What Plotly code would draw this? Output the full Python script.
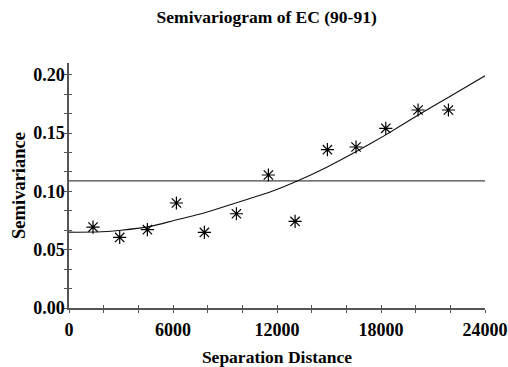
import plotly.graph_objects as go

# Experimental semivariogram (lag distance, semivariance)
lag_dist = [1385, 2925, 4523, 6197, 7811, 9659, 11504, 13043, 14908, 16560, 18275, 20138, 21890]
semivar = [0.0694, 0.0605, 0.0671, 0.0900, 0.0648, 0.0808, 0.1140, 0.0742, 0.1357, 0.1380, 0.1540, 0.1697, 0.1697]

# Fitted model curve
model_dist = [0, 1600, 3000, 4500, 6000, 7800, 9800, 11800, 13200, 14900, 16600, 18300, 20100, 22000, 24000]
model_val = [0.0650, 0.0651, 0.0667, 0.0693, 0.0748, 0.0815, 0.0908, 0.1005, 0.1090, 0.1209, 0.1343, 0.1486, 0.1650, 0.1815, 0.1990]

# Sample variance (sill) line
sill_dist = [0, 24000]
sill_val = [0.109, 0.109]

title_text = "Semivariogram of EC (90-91)"
x_title = "Separation Distance"
y_title = "Semivariance"

FONT = "Liberation Serif, Times New Roman, serif"
AX = "#555555"

fig = go.Figure()
fig.add_trace(go.Scatter(x=sill_dist, y=sill_val, mode="lines",
                         line=dict(color="#444444", width=1.3), showlegend=False))
fig.add_trace(go.Scatter(x=model_dist, y=model_val, mode="lines", line_shape="spline",
                         line=dict(color="#111111", width=1.1, smoothing=0.4), showlegend=False))
fig.add_trace(go.Scatter(x=lag_dist, y=semivar, mode="markers",
                         marker=dict(symbol="asterisk-open", size=11, color="#000000",
                                     line=dict(color="#000000", width=1.2)),
                         showlegend=False))

xr = [0, 24000]
yr = [0, 0.21]
ymin = [i * 0.05 / 3 for i in range(13)]

fig.update_layout(
    width=508, height=367,
    margin=dict(l=69, r=23, t=63, b=59),
    paper_bgcolor="white", plot_bgcolor="white",
    font=dict(family=FONT, color="#000000"),
    title=dict(text=title_text, x=0.525, xanchor="center", y=1 - 17 / 367, yanchor="middle",
               font=dict(family=FONT, size=17.5, weight="bold")),
    xaxis=dict(range=xr, automargin=False, showgrid=False, zeroline=False, showline=True,
               linecolor=AX, linewidth=1.5,
               tickmode="linear", tick0=0, dtick=6000, tickformat="d",
               ticks="outside", ticklen=3, tickcolor=AX,
               tickwidth=1, minor=dict(dtick=2000, ticks="outside", ticklen=3, tickcolor=AX),
               tickfont=dict(family=FONT, size=18, weight="bold"),
               ticklabelstandoff=2,
               title=dict(text=x_title, font=dict(family=FONT, size=17.5, weight="bold"), standoff=17)),
    yaxis=dict(range=yr, automargin=False, showgrid=False, zeroline=False, showline=True,
               linecolor=AX, linewidth=1.5,
               tickmode="array", tickvals=[0, 0.05, 0.10, 0.15, 0.20],
               ticktext=["0.00", "0.05", "0.10", "0.15", "0.20"],
               ticks="outside", ticklen=3, tickcolor=AX, tickwidth=1,
               minor=dict(tickvals=ymin, ticks="outside", ticklen=3, tickcolor=AX),
               tickfont=dict(family=FONT, size=18, weight="bold"),
               ticklabelstandoff=-4,
               title=dict(text=y_title, font=dict(family=FONT, size=18.5, weight="bold"), standoff=3)),
    xaxis2=dict(range=xr, overlaying="x", automargin=False, showgrid=False, zeroline=False, showline=False,
                tickmode="linear", tick0=0, dtick=2000, ticks="inside", ticklen=3, tickcolor=AX,
                showticklabels=False),
    yaxis2=dict(range=yr, overlaying="y", automargin=False, showgrid=False, zeroline=False, showline=False,
                tickmode="array", tickvals=ymin, ticks="inside", ticklen=3, tickcolor=AX,
                showticklabels=False),
)
fig.add_trace(go.Scatter(x=[None], y=[None], xaxis="x2", yaxis="y2", showlegend=False, hoverinfo="skip"))

fig.write_html("out.html")
